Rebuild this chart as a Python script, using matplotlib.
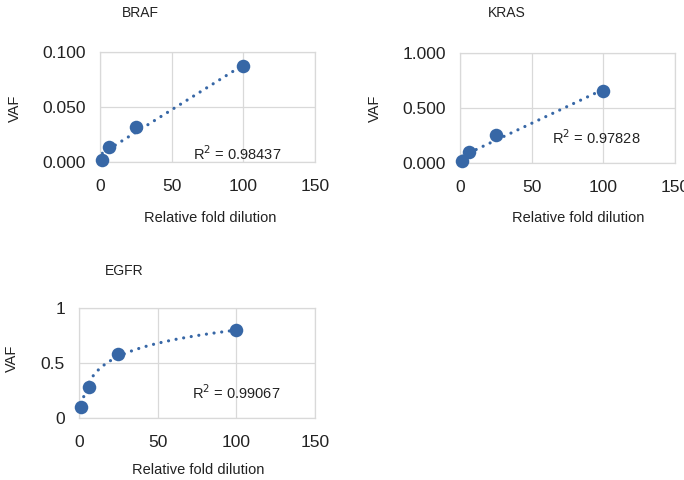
import numpy as np
import matplotlib
matplotlib.use("Agg")
import matplotlib.pyplot as plt

plt.rcParams['font.family'] = ['Liberation Sans', 'DejaVu Sans']

dilution = [1.5625, 6.25, 25, 100]
braf_vaf = [0.002, 0.014, 0.032, 0.087]
kras_vaf = [0.018, 0.10, 0.255, 0.657]
egfr_vaf = [0.103, 0.279, 0.579, 0.80]
r2_labels = ["0.98437", "0.97828", "0.99067"]
x_ticks = [0, 50, 100, 150]

BLUE = "#3767a6"
GRID = "#d9d9d9"
TXT = "#222222"

fig = plt.figure(figsize=(6.84, 4.8), dpi=100)

def px(x0, y0, x1, y1):
    W, H = 684, 480
    return [x0 / W, 1 - y1 / H, (x1 - x0) / W, (y1 - y0) / H]

def panel(rect, y, yticks, yfmt, fit, r2, r2pos):
    ax = fig.add_axes(rect)
    x = np.array(dilution, dtype=float)
    yv = np.array(y, dtype=float)
    if fit == "lin":
        c = np.polyfit(x, yv, 1)
        xs = np.linspace(x.min(), x.max(), 100)
        ys = np.polyval(c, xs)
    else:
        c = np.polyfit(np.log(x), yv, 1)
        xs = np.linspace(3, x.max(), 200)
        ys = c[0] * np.log(xs) + c[1]
    ax.plot(xs, ys, color=BLUE, lw=2.3, linestyle=(0, (0.01, 2.4)),
            dash_capstyle='round', zorder=2)
    ax.scatter(x, yv, s=95, color=BLUE, zorder=3, linewidths=0, clip_on=False)
    ax.set_xlim(0, 150)
    ax.set_ylim(yticks[0], yticks[-1])
    ax.set_xticks(x_ticks)
    ax.set_yticks(yticks)
    ax.set_yticklabels([yfmt.format(v) for v in yticks])
    ax.grid(True, color=GRID, lw=0.9)
    ax.set_axisbelow(True)
    for s in ax.spines.values():
        s.set_color(GRID)
        s.set_linewidth(0.9)
    ax.tick_params(length=0, labelsize=12.5, colors=TXT)
    ax.tick_params(axis='x', pad=12)
    ax.tick_params(axis='y', pad=10)
    ax.text(r2pos[0], r2pos[1], "R$^{2}$ = " + r2, fontsize=10.5,
            ha='center', va='center', color=TXT)
    return ax

panel(px(100, 52, 315, 162), braf_vaf, [0.0, 0.05, 0.1], "{:.3f}", "lin",
      r2_labels[0], (96, 0.008))
panel(px(460, 53, 675, 163), kras_vaf, [0.0, 0.5, 1.0], "{:.3f}", "lin",
      r2_labels[1], (95, 0.23))
panel(px(79, 308, 315, 418), egfr_vaf, [0, 0.5, 1], "{:g}", "log",
      r2_labels[2], (100, 0.23))

def ft(x, y, s, rot=0, size=10.5):
    fig.text(x / 684, 1 - y / 480, s, fontsize=size, ha='center', va='center',
             rotation=rot, color=TXT)

ft(140, 13, "BRAF", size=10)
ft(507, 13, "KRAS", size=10)
ft(124, 271, "EGFR", size=10)
ft(210, 218, "Relative fold dilution")
ft(578, 218, "Relative fold dilution")
ft(198, 470, "Relative fold dilution")
ft(15, 108, "VAF", 90)
ft(375, 108, "VAF", 90)
ft(12, 358, "VAF", 90)

fig.savefig("out.png", dpi=100)
